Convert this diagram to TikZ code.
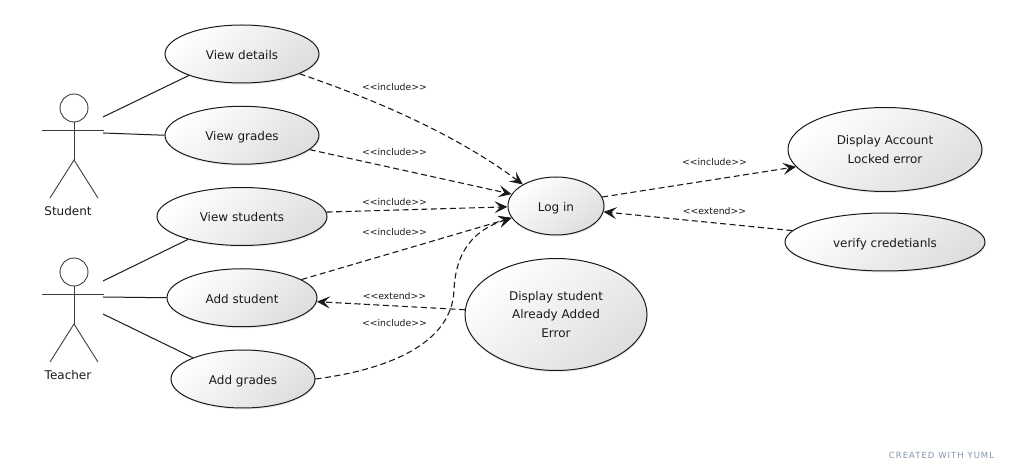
\documentclass[tikz,border=0pt]{standalone}
\usepackage{fontspec}
\setmainfont{DejaVu Sans}[Ligatures=TeXOff]
\newfontfamily\yumlfont[LetterSpace=12]{DejaVu Sans}
\usetikzlibrary{shapes.geometric, shadows, arrows.meta}
\definecolor{ink}{HTML}{1A1A1A}
\definecolor{yumlgrey}{HTML}{8494A8}
\tikzset{
  ucase/.style={ellipse, draw=ink, line width=1pt, inner sep=0pt, minimum height=58pt,
    top color=white, bottom color=black!13, shading angle=40,
    drop shadow={opacity=0.15, shadow xshift=0.6pt, shadow yshift=-1.6pt},
    text=ink, align=center, font=\fontsize{12}{18.7}\selectfont},
  oneline/.style={text height=10.6pt, text depth=0pt},
  actorline/.style={draw=ink!85, line width=0.9pt},
  assoc/.style={draw=ink, line width=1pt},
  dep/.style={draw=ink, line width=1.1pt, dash pattern=on 6pt off 3.5pt,
    -{Stealth[length=13pt, width=12pt, inset=5.5pt]}},
  stereo/.style={text=ink, font=\fontsize{9.3}{11}\selectfont},
  actorname/.style={text=ink, font=\fontsize{12}{14}\selectfont},
}
\begin{document}
\begin{tikzpicture}[x=1pt, y=-1pt, node distance=81.25pt]
          \useasboundingbox (0,0) rectangle (1010,470);
          \node[ucase, oneline, minimum width=154pt] (details) at (242,54) {View details};
          \node[ucase, oneline, minimum width=154pt, below of=details] (grades) {View grades};
          \node[ucase, oneline, minimum width=170pt, below of=grades] (students) {View students};
          \node[ucase, oneline, minimum width=150pt, below of=students] (addstudent) {Add student};
          \node[ucase, oneline, minimum width=144pt, below of=addstudent, xshift=1pt] (addgrades) {Add grades};
          \node[ucase, oneline, minimum width=96pt] (login) at (556,206) {Log in};
          \node[ucase, minimum width=182pt, minimum height=112pt, below of=login, node distance=108.5pt] (dupe)
            {Display student\\Already Added\\Error};
          \node[ucase, minimum width=194pt, minimum height=84pt] (locked) at (885,149.5) {Display Account\\Locked error};
          \node[ucase, oneline, minimum width=200pt, below of=locked, node distance=92.5pt] (verify) {verify credetianls};
          \foreach \who/\ypos/\name in {s/108/Student, t/272/Teacher} {
            \node[circle, actorline, minimum size=28pt, inner sep=0pt] (\who head) at (74,\ypos) {};
            \coordinate (\who armL) at ([xshift=-32pt, yshift=-22pt]\who head.center);
            \coordinate (\who armR) at ([xshift=30pt, yshift=-22pt]\who head.center);
            \coordinate (\who hip) at ([yshift=-52pt]\who head.center);
            \coordinate (\who footL) at ([xshift=-24pt, yshift=-90pt]\who head.center);
            \coordinate (\who footR) at ([xshift=24pt, yshift=-90pt]\who head.center);
            \coordinate (\who up) at ([xshift=29pt, yshift=-9pt]\who head.center);
            \coordinate (\who mid) at ([xshift=29pt, yshift=-25pt]\who head.center);
            \coordinate (\who low) at ([xshift=29pt, yshift=-42pt]\who head.center);
            \draw[actorline] (\who armL) -- (\who armR);
            \draw[actorline] (\who head) -- (\who hip);
            \draw[actorline] (\who footL) -- (\who hip) -- (\who footR);
            \node[actorname] (\who name) at ([xshift=-6pt, yshift=-103pt]\who head.center) {\name};
          }
          \draw[assoc] (sup) -- (details.202);
          \draw[assoc] (smid) -- (grades.180);
          \draw[assoc] (tup) -- (students.203);
          \draw[assoc] (tmid) -- (addstudent.180);
          \draw[assoc] (tlow) -- (addgrades.157);
          \draw[dep] (details.-19) .. controls (400,108) and (470,145) .. (login.147);
          \draw[dep] (grades.-12) -- (login.165);
          \draw[dep] (students.3) -- (login.181);
          \draw[dep] (addstudent.17) -- (login.195);
          \draw[dep] (addgrades.0) .. controls (385,370) and (452,345) .. (454,290)
            .. controls (456,245) and (480,228) .. (login.195);
          \draw[dep] (dupe.177) -- (addstudent.-3);
          \draw[dep] (login.11) -- (locked.191);
          \draw[dep] (verify.173) -- (login.-7);
          \node[stereo] (inc1) at (394.5,87.5) {<<include>>};
          \node[stereo] (inc2) at (394.5,152.5) {<<include>>};
          \node[stereo] (inc3) at (394.5,202.5) {<<include>>};
          \node[stereo] (inc4) at (394.5,232.5) {<<include>>};
          \node[stereo] (inc5) at (394.5,323.5) {<<include>>};
          \node[stereo] (ext1) at (394.5,296.5) {<<extend>>};
          \node[stereo] (inc6) at (714.5,162.5) {<<include>>};
          \node[stereo] (ext2) at (714.5,211.5) {<<extend>>};
          \node[text=yumlgrey, font=\yumlfont\fontsize{8.5}{10}\selectfont] (stamp) at (941.5,455) {CREATED WITH YUML};
\end{tikzpicture}
\end{document}
